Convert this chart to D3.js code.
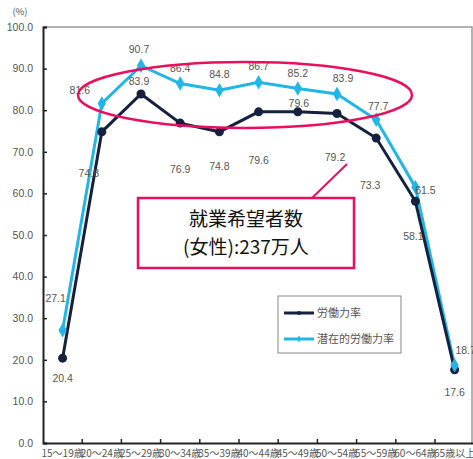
<!DOCTYPE html>
<html>
<head>
<meta charset="utf-8">
<script src="https://cdn.jsdelivr.net/npm/d3@7"></script>
<style>
  body { margin: 0; background: #fff; }
  text { font-family: "Noto Sans CJK JP", "Noto Sans", sans-serif; }
</style>
</head>
<body>
<svg id="chart" width="473" height="459"></svg>
<script>
const categories = ["15～19歳", "20～24歳", "25～29歳", "30～34歳", "35～39歳", "40～44歳",
    "45～49歳", "50～54歳", "55～59歳", "60～64歳", "65歳以上"];
const laborRate = [20.4, 74.8, 83.9, 76.9, 74.8, 79.6, 79.6, 79.2, 73.3, 58.1, 17.6];
const potentialRate = [27.1, 81.6, 90.7, 86.4, 84.8, 86.7, 85.2, 83.9, 77.7, 61.5, 18.7];
const yTicks = [0, 10, 20, 30, 40, 50, 60, 70, 80, 90, 100];
const seriesNames = ["労働力率", "潜在的労働力率"];

// label offsets (layout only)
const laborLabelDx = [0, -13, -2, 0, 0, 0, 1, -2, -6, -2, 0];
const laborLabelDy = [24, 45, -9, 50, 38, 52, -5, 47, 51, 39, 26];
const potLabelDx = [-7, -22, -2, 0, 0, 0, 0, 6, 2, 10, 11];
const potLabelDy = [-28, -10, -13, -12, -12, -12, -12, -12, -10, 7, -11];

const svg = d3.select("#chart");
const margin = {left: 43, top: 27, right: 1, bottom: 16};
const width = 473, height = 459;

const x = d3.scaleBand()
    .domain(categories)
    .range([margin.left, margin.left + 39.2 * 11]);

const y = d3.scaleLinear()
    .domain([0, 100])
    .range([height - margin.bottom, margin.top]);

const cx = d => x(d) + x.bandwidth() / 2;

// frame (top/right)
svg.append("path")
    .attr("d", `M${margin.left},${y(100)}H${width - margin.right}V${y(0)}`)
    .attr("fill", "none")
    .attr("stroke", "#9a9a9a")
    .attr("stroke-width", 1.5);

// y axis
const yAxis = svg.append("g")
    .attr("transform", `translate(${margin.left},0)`)
    .call(d3.axisLeft(y).tickValues(yTicks).tickSize(-4).tickPadding(10).tickFormat(d3.format(".1f")));
yAxis.select(".domain").attr("stroke", "#222").attr("stroke-width", 2);
yAxis.selectAll(".tick line").attr("stroke", "#222").attr("stroke-width", 1.5);
yAxis.selectAll(".tick text").attr("fill", "#555").style("font-size", "10.5px")
    .style("font-family", "Liberation Sans, Arial, sans-serif");

svg.append("text")
    .attr("x", 20).attr("y", 15)
    .attr("text-anchor", "middle")
    .attr("fill", "#555")
    .style("font-size", "9.5px")
    .text("(%)");

// x axis
const xAxis = svg.append("g")
    .attr("transform", `translate(0,${y(0)})`)
    .call(d3.axisBottom(x).tickSize(0).tickPadding(7));
xAxis.select(".domain").attr("stroke", "#222").attr("stroke-width", 2);
xAxis.selectAll(".tick text").attr("fill", "#555").style("font-size", "10px");
svg.append("g")
    .selectAll("line")
    .data(categories.slice(1))
    .join("line")
    .attr("x1", d => x(d)).attr("x2", d => x(d))
    .attr("y1", y(0)).attr("y2", y(0) - 4)
    .attr("stroke", "#222").attr("stroke-width", 1.5);

const line = d3.line()
    .x((d, i) => cx(categories[i]))
    .y(d => y(d));

const navy = "#16213f";
const cyan = "#22b6e6";

// potential line
svg.append("path")
    .datum(potentialRate)
    .attr("d", line)
    .attr("fill", "none")
    .attr("stroke", cyan)
    .attr("stroke-width", 3);

// labor line
svg.append("path")
    .datum(laborRate)
    .attr("d", line)
    .attr("fill", "none")
    .attr("stroke", navy)
    .attr("stroke-width", 3);

svg.append("g")
    .selectAll("circle")
    .data(laborRate)
    .join("circle")
    .attr("cx", (d, i) => cx(categories[i]))
    .attr("cy", d => y(d))
    .attr("r", 4.5)
    .attr("fill", navy);

svg.append("g")
    .selectAll("path")
    .data(potentialRate)
    .join("path")
    .attr("d", d3.symbol(d3.symbolDiamond, 60))
    .attr("transform", (d, i) => `translate(${cx(categories[i])},${y(d)})`)
    .attr("fill", cyan);

// data labels
const labelFont = "Liberation Sans, Arial, sans-serif";
svg.append("g")
    .selectAll("text")
    .data(laborRate)
    .join("text")
    .attr("x", (d, i) => cx(categories[i]) + laborLabelDx[i])
    .attr("y", (d, i) => y(d) + laborLabelDy[i])
    .attr("text-anchor", "middle")
    .attr("fill", "#555")
    .style("font-size", "10.5px")
    .style("font-family", labelFont)
    .text(d => d.toFixed(1));

svg.append("g")
    .selectAll("text")
    .data(potentialRate)
    .join("text")
    .attr("x", (d, i) => cx(categories[i]) + potLabelDx[i])
    .attr("y", (d, i) => y(d) + potLabelDy[i])
    .attr("text-anchor", "middle")
    .attr("fill", "#555")
    .style("font-size", "10.5px")
    .style("font-family", labelFont)
    .text(d => d.toFixed(1));

// highlight ellipse
const pink = "#e8105e";
svg.append("ellipse")
    .attr("cx", 245).attr("cy", 95)
    .attr("rx", 167).attr("ry", 33)
    .attr("fill", "none")
    .attr("stroke", pink)
    .attr("stroke-width", 2.5);

// callout
svg.append("line")
    .attr("x1", 312).attr("y1", 198)
    .attr("x2", 347).attr("y2", 164)
    .attr("stroke", pink).attr("stroke-width", 2);

svg.append("rect")
    .attr("x", 138).attr("y", 198)
    .attr("width", 216).attr("height", 70)
    .attr("fill", "#fff")
    .attr("stroke", pink)
    .attr("stroke-width", 2.5);

svg.append("text")
    .attr("x", 246).attr("y", 226)
    .attr("text-anchor", "middle")
    .attr("fill", "#111")
    .style("font-size", "19px")
    .text("就業希望者数");
svg.append("text")
    .attr("x", 246).attr("y", 254)
    .attr("text-anchor", "middle")
    .attr("fill", "#111")
    .style("font-size", "19px")
    .text("(女性):237万人");

// legend
const legend = svg.append("g");
legend.append("rect")
    .attr("x", 278).attr("y", 296)
    .attr("width", 123).attr("height", 57)
    .attr("fill", "#fff")
    .attr("stroke", "#888")
    .attr("stroke-width", 1);

[navy, cyan].forEach((c, i) => {
    const ly = 313 + i * 26;
    legend.append("line")
        .attr("x1", 284).attr("x2", 314)
        .attr("y1", ly).attr("y2", ly)
        .attr("stroke", c).attr("stroke-width", 3);
    if (i === 0) {
        legend.append("circle").attr("cx", 299).attr("cy", ly).attr("r", 2).attr("fill", c);
    } else {
        legend.append("path")
            .attr("d", d3.symbol(d3.symbolDiamond, 14))
            .attr("transform", `translate(299,${ly})`)
            .attr("fill", c);
    }
    legend.append("text")
        .attr("x", 317).attr("y", ly + 4)
        .attr("fill", "#555")
        .style("font-size", "11px")
        .text(seriesNames[i]);
});
</script>
</body>
</html>
